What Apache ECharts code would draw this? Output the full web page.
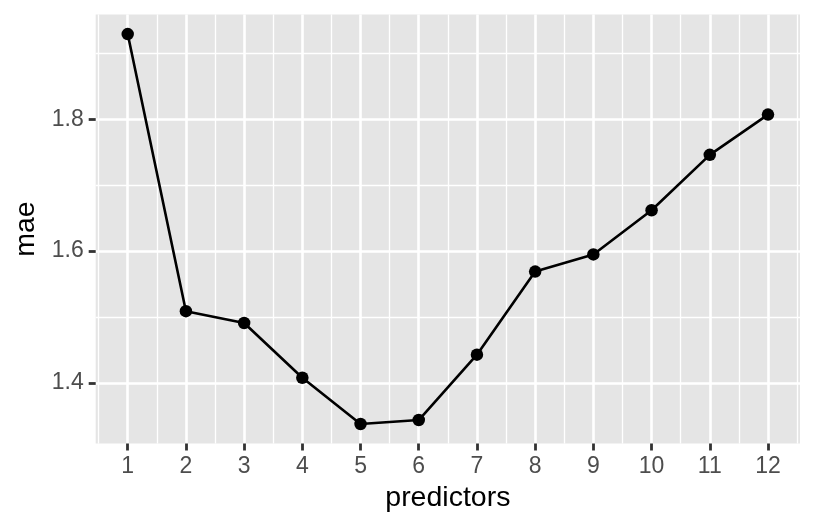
<!DOCTYPE html>
<html>
<head>
<meta charset="utf-8">
<script src="https://cdn.jsdelivr.net/npm/echarts@6/dist/echarts.min.js"></script>
<style>
html,body{margin:0;padding:0;background:#fff;}
#chart{width:816px;height:528px;}
</style>
</head>
<body>
<div id="chart"></div>
<script>
const predictors = [1, 2, 3, 4, 5, 6, 7, 8, 9, 10, 11, 12];
const mae = [1.929, 1.509, 1.491, 1.408, 1.338, 1.344, 1.443, 1.569, 1.595, 1.662, 1.746, 1.807];
const xMajor = [1, 2, 3, 4, 5, 6, 7, 8, 9, 10, 11, 12];
const xMinor = [0.5, 1.5, 2.5, 3.5, 4.5, 5.5, 6.5, 7.5, 8.5, 9.5, 10.5, 11.5, 12.5];
const yMajor = [1.4, 1.6, 1.8];
const yMinor = [1.5, 1.7, 1.9];
const xRange = [0.45, 12.55];
const yRange = [1.3084, 1.9587];

const chart = echarts.init(document.getElementById('chart'), null, {renderer: 'canvas'});
const FONT = 'Liberation Sans, Arial, Helvetica, sans-serif';
const points = predictors.map((p, i) => [p, mae[i]]);

chart.setOption({
  animation: false,
  backgroundColor: '#ffffff',
  grid: {left: 95.7, right: 16, top: 14.5, bottom: 84.5, show: true, backgroundColor: '#E5E5E5', borderWidth: 0},
  xAxis: [
    {
      type: 'value', min: xRange[0], max: xRange[1],
      axisLine: {show: false},
      axisTick: {show: true, customValues: xMajor, length: 7, lineStyle: {color: '#333333', width: 2.8}},
      axisLabel: {customValues: xMajor, color: '#4D4D4D', fontSize: 23, fontFamily: FONT, margin: 12},
      splitLine: {show: true, lineStyle: {color: '#ffffff', width: 2.6}},
      name: 'predictors', nameLocation: 'middle', nameGap: 35,
      nameTextStyle: {color: '#000000', fontSize: 28.5, fontFamily: FONT}
    },
    {
      type: 'value', min: xRange[0], max: xRange[1], position: 'bottom',
      axisLine: {show: false},
      axisTick: {show: false, customValues: xMinor},
      axisLabel: {show: false, customValues: xMinor},
      splitLine: {show: true, lineStyle: {color: '#ffffff', width: 1.3}}
    }
  ],
  yAxis: [
    {
      type: 'value', min: yRange[0], max: yRange[1],
      axisLine: {show: false},
      axisTick: {show: true, customValues: yMajor, length: 7, lineStyle: {color: '#333333', width: 2.8}},
      axisLabel: {customValues: yMajor, color: '#4D4D4D', fontSize: 23, fontFamily: FONT, margin: 12,
        formatter: v => v.toFixed(1)},
      splitLine: {show: true, lineStyle: {color: '#ffffff', width: 2.6}},
      name: 'mae', nameLocation: 'middle', nameGap: 54, nameRotate: 90,
      nameTextStyle: {color: '#000000', fontSize: 28.5, fontFamily: FONT}
    },
    {
      type: 'value', min: yRange[0], max: yRange[1], position: 'left',
      axisLine: {show: false},
      axisTick: {show: false, customValues: yMinor},
      axisLabel: {show: false, customValues: yMinor},
      splitLine: {show: true, lineStyle: {color: '#ffffff', width: 1.3}}
    }
  ],
  series: [{
    type: 'line', xAxisIndex: 0, yAxisIndex: 0, data: points,
    symbol: 'circle', symbolSize: 12.5, showSymbol: true,
    lineStyle: {color: '#000000', width: 2.6},
    itemStyle: {color: '#000000'},
    z: 5
  }]
});
</script>
</body>
</html>
